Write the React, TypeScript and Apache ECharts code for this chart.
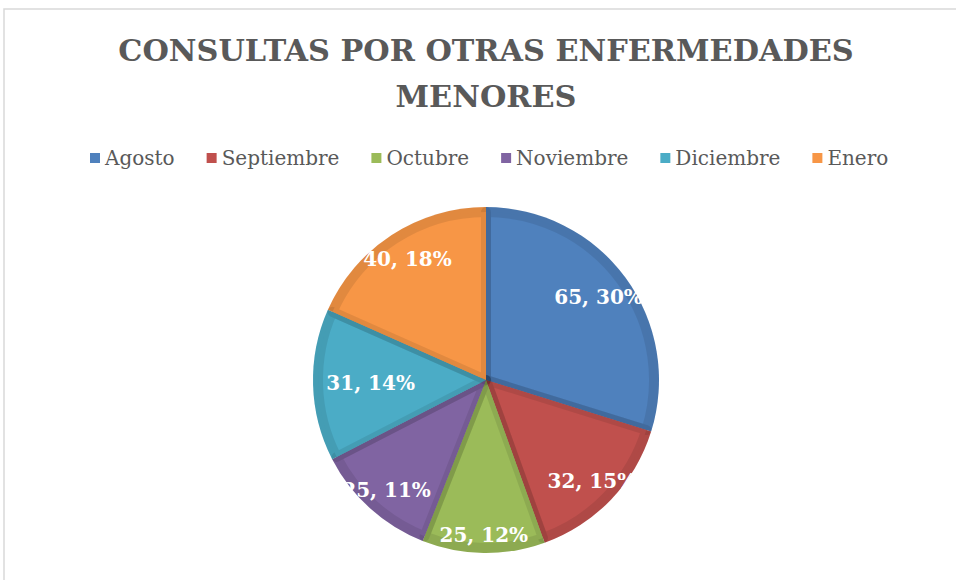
import React, { useEffect, useRef } from "react";
import * as echarts from "echarts";

const TITLE = "CONSULTAS POR OTRAS ENFERMEDADES\nMENORES";
const months = ["Agosto", "Septiembre", "Octubre", "Noviembre", "Diciembre", "Enero"];
const values = [65, 32, 25, 25, 31, 40];
const percents = [30, 15, 12, 11, 14, 18];

const fillColors = ["#4F81BD", "#C0504D", "#9BBB59", "#8064A2", "#4BACC6", "#F79646"];

// radial position of each data label, as a fraction of the pie radius
const labelRadiusRatio = [0.79, 0.83, 0.88, 0.84, 0.65, 0.816];

const CENTER: [number, number] = [486, 380];
const RADIUS = 173;
const BAND = 10;

export default function App() {
  const ref = useRef<HTMLDivElement>(null);

  useEffect(() => {
    if (!ref.current) return;
    const chart = echarts.init(ref.current, undefined, { renderer: "svg" });

    const baseData = months.map((m, i) => ({ name: m, value: values[i] }));

    const labelSeries = months.map((_, k) => ({
      type: "pie",
      name: "label" + k,
      center: CENTER,
      radius: [0, 2 * labelRadiusRatio[k] * RADIUS],
      startAngle: 90,
      clockwise: true,
      silent: true,
      legendHoverLink: false,
      z: 5,
      itemStyle: { color: "rgba(0,0,0,0)", borderWidth: 0 },
      labelLine: { show: false },
      emphasis: { disabled: true },
      data: months.map((m, i) => ({
        name: m,
        value: values[i],
        label: {
          show: i === k,
          position: "inside",
          formatter: `${values[i]}, ${percents[i]}%`,
          color: "#FFFFFF",
          fontFamily: "DejaVu Serif",
          fontWeight: "bold",
          fontSize: 20,
        },
      })),
    }));

    chart.setOption({
      animation: false,
      backgroundColor: "#FFFFFF",
      title: {
        text: TITLE,
        left: 486,
        top: 27,
        padding: 0,
        textAlign: "center",
        textStyle: {
          fontFamily: "DejaVu Serif",
          fontWeight: "bold",
          fontSize: 30.3,
          lineHeight: 46,
          color: "#595959",
        },
      },
      legend: {
        left: 90,
        top: 146,
        padding: 0,
        itemGap: 32,
        itemWidth: 10,
        itemHeight: 10,
        icon: "rect",
        textStyle: {
          fontFamily: "DejaVu Serif",
          fontSize: 20,
          lineHeight: 24,
          color: "#595959",
        },
        data: months.map((m, i) => ({ name: m, itemStyle: { color: fillColors[i] } })),
      },
      graphic: [
        {
          type: "rect",
          shape: { x: 4, y: 9, width: 1000, height: 700 },
          style: { fill: "none", stroke: "#D9D9D9", lineWidth: 1.5 },
          silent: true,
        },
      ],
      series: [
        {
          type: "pie",
          name: "base",
          center: CENTER,
          radius: [0, RADIUS],
          startAngle: 90,
          clockwise: true,
          z: 2,
          label: { show: false },
          labelLine: { show: false },
          emphasis: { disabled: true },
          itemStyle: { borderWidth: 0 },
          data: baseData.map((d, i) => ({ ...d, itemStyle: { color: fillColors[i] } })),
        },
        {
          type: "pie",
          name: "bevel",
          center: CENTER,
          radius: [0, RADIUS - BAND / 2],
          startAngle: 90,
          clockwise: true,
          z: 3,
          silent: true,
          legendHoverLink: false,
          label: { show: false },
          labelLine: { show: false },
          emphasis: { disabled: true },
          itemStyle: {
            borderWidth: BAND,
            borderColor: "rgba(0,0,0,0.085)",
            borderJoin: "round",
          },
          data: baseData.map((d, i) => ({ ...d, itemStyle: { color: fillColors[i] } })),
        },
        ...labelSeries,
      ],
    });

    return () => chart.dispose();
  }, []);

  return (
    <div
      ref={ref}
      style={{ position: "absolute", left: 0, top: 0, width: 956, height: 580 }}
    />
  );
}
